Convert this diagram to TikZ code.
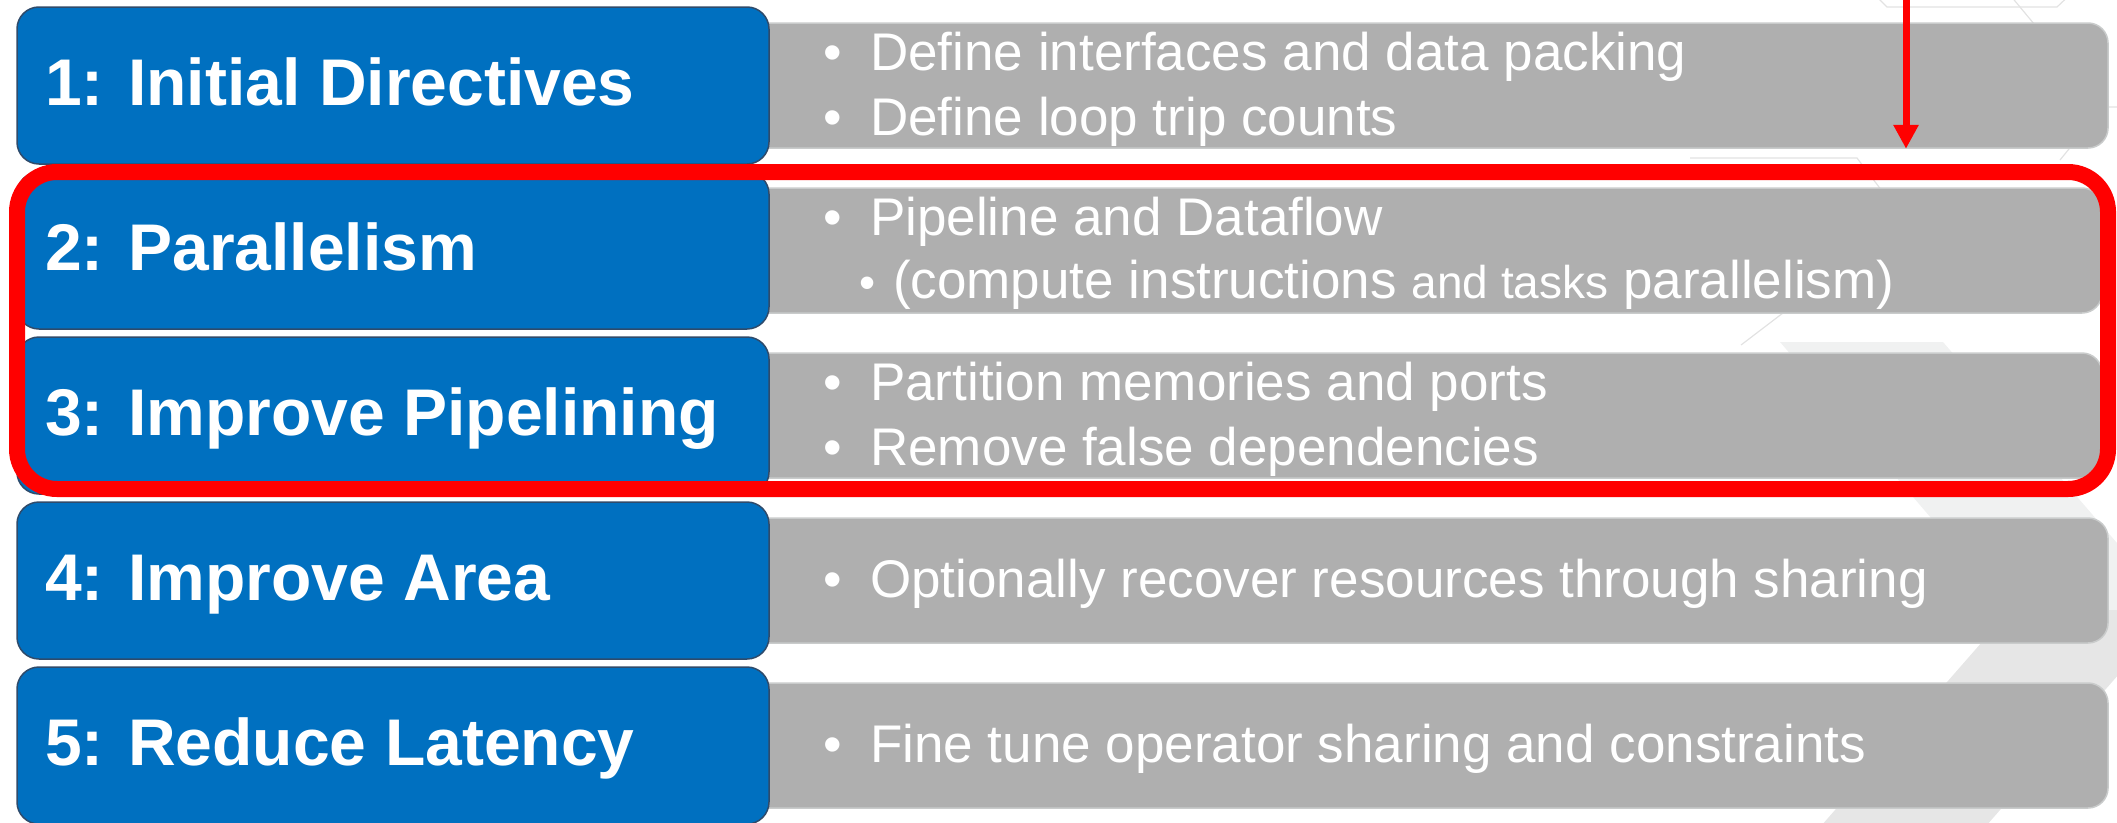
\documentclass[tikz,border=0pt]{standalone}
\usepackage{fontspec}
\setmainfont{Liberation Sans}
\usetikzlibrary{arrows.meta}

\definecolor{stepblue}{HTML}{0070C0}
\definecolor{stepedge}{HTML}{2F4B6B}
\definecolor{notegray}{HTML}{AFAFAF}
\definecolor{noteedge}{HTML}{C9CBCB}
\definecolor{hexline}{HTML}{E2E2E2}
\definecolor{chevlight}{HTML}{F0F1F1}
\definecolor{chevdark}{HTML}{E6E6E6}
\definecolor{hilite}{HTML}{FF0000}

\tikzset{
  stepbox/.style={draw=stepedge,line width=1.5pt,fill=stepblue,rounded corners=22pt,
    minimum width=752pt,minimum height=157pt,inner sep=0pt},
  notebox/.style={draw=noteedge,line width=1.5pt,fill=notegray,rounded corners=20pt,
    minimum height=125pt,inner sep=0pt},
  steplabel/.style={anchor=base west,inner sep=0pt,text=white,
    font=\fontsize{66}{79}\selectfont\bfseries},
  noteline/.style={anchor=base west,inner sep=0pt,text=white,
    font=\fontsize{53}{64}\selectfont},
}

% bullet with a fixed indent before the text
\newcommand{\itm}[1]{\makebox[#1][l]{\textbullet}}

\begin{document}
\begin{tikzpicture}[x=1pt,y=-1pt]
\useasboundingbox (0,0) rectangle (2117,822);

% Background chevron and hex lines
\fill[chevlight] (1780,342) -- (1943,342) -- (2175,610) -- (2010,610) -- cycle;
\fill[chevdark] (2010,610) -- (2175,610) -- (1965,850) -- (1800,850) -- cycle;
\draw[hexline,line width=1.2pt] (1870,-10) -- (1887,7) -- (2057,7) -- (2075,-10);
\draw[hexline,line width=1.2pt] (2010,-5) -- (2103,107) -- (2125,107);
\draw[hexline,line width=1.2pt] (2103,107) -- (2060,160);
\draw[hexline,line width=1.2pt] (1690,158) -- (1857,158) -- (1885,195);
\draw[hexline,line width=1.2pt] (1741,345) -- (1800,300);

% Grey note boxes
\foreach \k/\w in {1/1368,2/1362,3/1362,4/1368,5/1368}
  \node[notebox,minimum width=\w pt] (n\k) at ({740+\w/2},{85.5+165*(\k-1)}) {};

% Blue step boxes
\foreach \k/\title in {1/{1: Initial Directives},2/{2: Parallelism},
    3/{3: Improve Pipelining},4/{4: Improve Area},5/{5: Reduce Latency}} {
  \node[stepbox] (b\k) at (393,{85.5+165*(\k-1)}) {};
  \node[steplabel] (t\k) at (45,{105+165*(\k-1)}) {\title};
}

% Notes
\node[noteline] (d1a) at (823,70) {\itm{47pt}Define interfaces and data packing};
\node[noteline] (d1b) at (823,135) {\itm{47pt}Define loop trip counts};
\node[noteline] (d2a) at (823,235) {\itm{47pt}Pipeline and Dataflow};
\node[noteline] (d2b) at (859,298) {{\fontsize{46}{55}\selectfont\itm{34pt}}(compute instructions
  {\fontsize{46}{55}\selectfont and tasks} parallelism)};
\node[noteline] (d3a) at (823,400) {\itm{47pt}Partition memories and ports};
\node[noteline] (d3b) at (823,465) {\itm{47pt}Remove false dependencies};
\node[noteline] (d4) at (823,597) {\itm{47pt}Optionally recover resources through sharing};
\node[noteline] (d5) at (823,762) {\itm{47pt}Fine tune operator sharing and constraints};

% Highlight round steps 2 and 3
\draw[hilite,line width=16pt,rounded corners=40pt] (17,172) rectangle (2108,489);

% Arrow into the highlight
\coordinate (top) at (1906,-5);
\draw[hilite,line width=7pt,-{Triangle[length=24pt,width=24pt]}] (top) -- (top |- n1.south);

\end{tikzpicture}
\end{document}
